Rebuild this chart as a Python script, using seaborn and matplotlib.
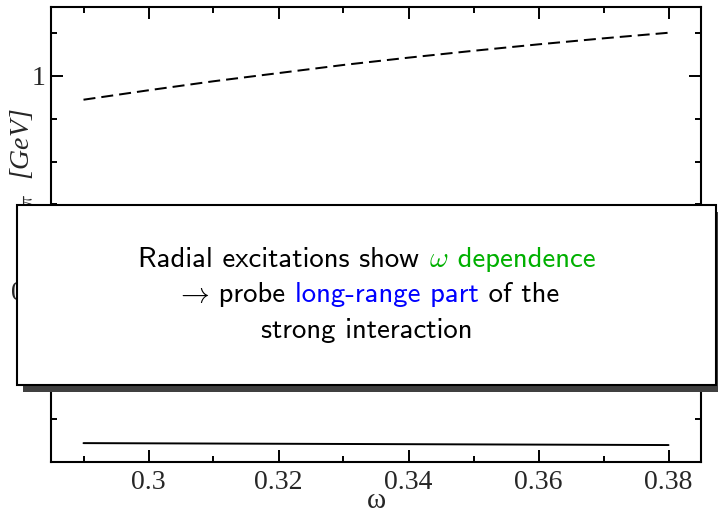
import os
import numpy as np
import pandas as pd
import matplotlib
matplotlib.use("Agg")
import matplotlib.pyplot as plt
from matplotlib.font_manager import FontProperties
from matplotlib.patches import Rectangle
from matplotlib.ticker import MultipleLocator, FixedLocator, FixedFormatter
import seaborn as sns

# ---------------- data ----------------
omega = [0.29, 0.30, 0.31, 0.32, 0.33, 0.34, 0.35, 0.36, 0.37, 0.38]
excited_mass = [0.944, 0.966, 0.987, 1.006, 1.025, 1.042, 1.058, 1.073, 1.087, 1.100]
ground_mass = [0.144, 0.1435, 0.143, 0.1425, 0.142, 0.1415, 0.141, 0.1405, 0.140, 0.1395]
x_major_ticks = [0.30, 0.32, 0.34, 0.36, 0.38]
x_tick_labels = ["0.3", "0.32", "0.34", "0.36", "0.38"]
y_major_ticks = [0.5, 1.0]
y_tick_labels = ["0.5", "1"]
x_label = "ω"
y_label = r"$m_{\pi}$  [GeV]"
note_lines = [
    [("Radial excitations show ", "black", "sf"), (r"$\omega$", "#00b000", "math"),
     (" dependence", "#00b000", "sf")],
    [(r"$\rightarrow$", "black", "math"), (" probe ", "black", "sf"),
     ("long-range part", "#0000ff", "sf"), (" of the", "black", "sf")],
    [("strong interaction", "black", "sf")],
]

df = pd.DataFrame({"omega": omega, "excited": excited_mass, "ground": ground_mass})

sns.set_theme(style="ticks")
plt.rcParams["font.family"] = ["Liberation Serif", "DejaVu Serif"]
plt.rcParams["mathtext.fontset"] = "cm"

W, H = 718, 514
fig = plt.figure(figsize=(W / 100, H / 100), dpi=100)
ax = fig.add_axes([51 / W, 1 - 462 / H, (701 - 51) / W, (462 - 7) / H])

sns.lineplot(data=df, x="omega", y="excited", ax=ax, color="black", lw=1.44,
             linestyle=(0, (6, 3)))
sns.lineplot(data=df, x="omega", y="ground", ax=ax, color="black", lw=1.4)

ax.set_xlim(0.285, 0.385)
ax.set_ylim(0.1, 1.16)
ax.xaxis.set_major_locator(FixedLocator(x_major_ticks))
ax.xaxis.set_major_formatter(FixedFormatter(x_tick_labels))
ax.xaxis.set_minor_locator(MultipleLocator(0.01))
ax.yaxis.set_major_locator(FixedLocator(y_major_ticks))
ax.yaxis.set_major_formatter(FixedFormatter(y_tick_labels))
ax.yaxis.set_minor_locator(MultipleLocator(0.1))

for s in ax.spines.values():
    s.set_linewidth(1.5)
    s.set_color("black")
ax.tick_params(which="both", direction="in", top=True, right=True, width=1.4, color="black")
ax.tick_params(which="major", length=8.6)
ax.tick_params(which="minor", length=4.3)
ax.tick_params(axis="x", which="major", pad=6, labelsize=20)
ax.tick_params(axis="y", which="major", pad=4, labelsize=20)
ax.set_xlabel(x_label, fontsize=21, labelpad=-5)
ax.set_ylabel("")

# partially hidden y label
fig.text(22 / W, 1 - 108 / H, y_label, rotation=90, ha="center", va="top",
         fontsize=20, fontstyle="italic")

# ---------------- overlay box ----------------
bx0, bx1, by0, by1 = 17, 716, 205, 385
off_x, off_y = 6, 7
fig.patches.append(Rectangle(((bx0 + off_x) / W, 1 - (by1 + off_y) / H),
                             (bx1 - bx0) / W, (by1 - by0) / H,
                             transform=fig.transFigure, facecolor="#404040",
                             edgecolor="none", zorder=10))
fig.patches.append(Rectangle((bx0 / W, 1 - by1 / H), (bx1 - bx0) / W, (by1 - by0) / H,
                             transform=fig.transFigure, facecolor="white",
                             edgecolor="black", lw=1.5, zorder=11))

sf_path = os.path.join(matplotlib.get_data_path(), "fonts", "ttf", "cmss10.ttf")
renderer = fig.canvas.get_renderer()


def build_line(pieces, size, baseline_px, center_px):
    texts = []
    for txt, col, kind in pieces:
        if kind == "sf":
            fp = FontProperties(fname=sf_path, size=size)
        else:
            fp = FontProperties(size=size)
        t = fig.text(0, 1 - baseline_px / H, txt, color=col, fontproperties=fp,
                     ha="left", va="baseline", zorder=12)
        texts.append(t)
    widths = [t.get_window_extent(renderer).width for t in texts]
    total = sum(widths)
    x = center_px - total / 2
    for t, w in zip(texts, widths):
        t.set_x(x / W)
        x += w
    return texts, total


# determine font size so the first line is ~462 px wide
probe, w10 = build_line(note_lines[0], 10, 0, 0)
for t in probe:
    t.remove()
size = 10 * 462 / w10

baselines = [267, 302, 338]
for pieces, b in zip(note_lines, baselines):
    build_line(pieces, size, b, 367)

fig.savefig("out.png", dpi=100)
